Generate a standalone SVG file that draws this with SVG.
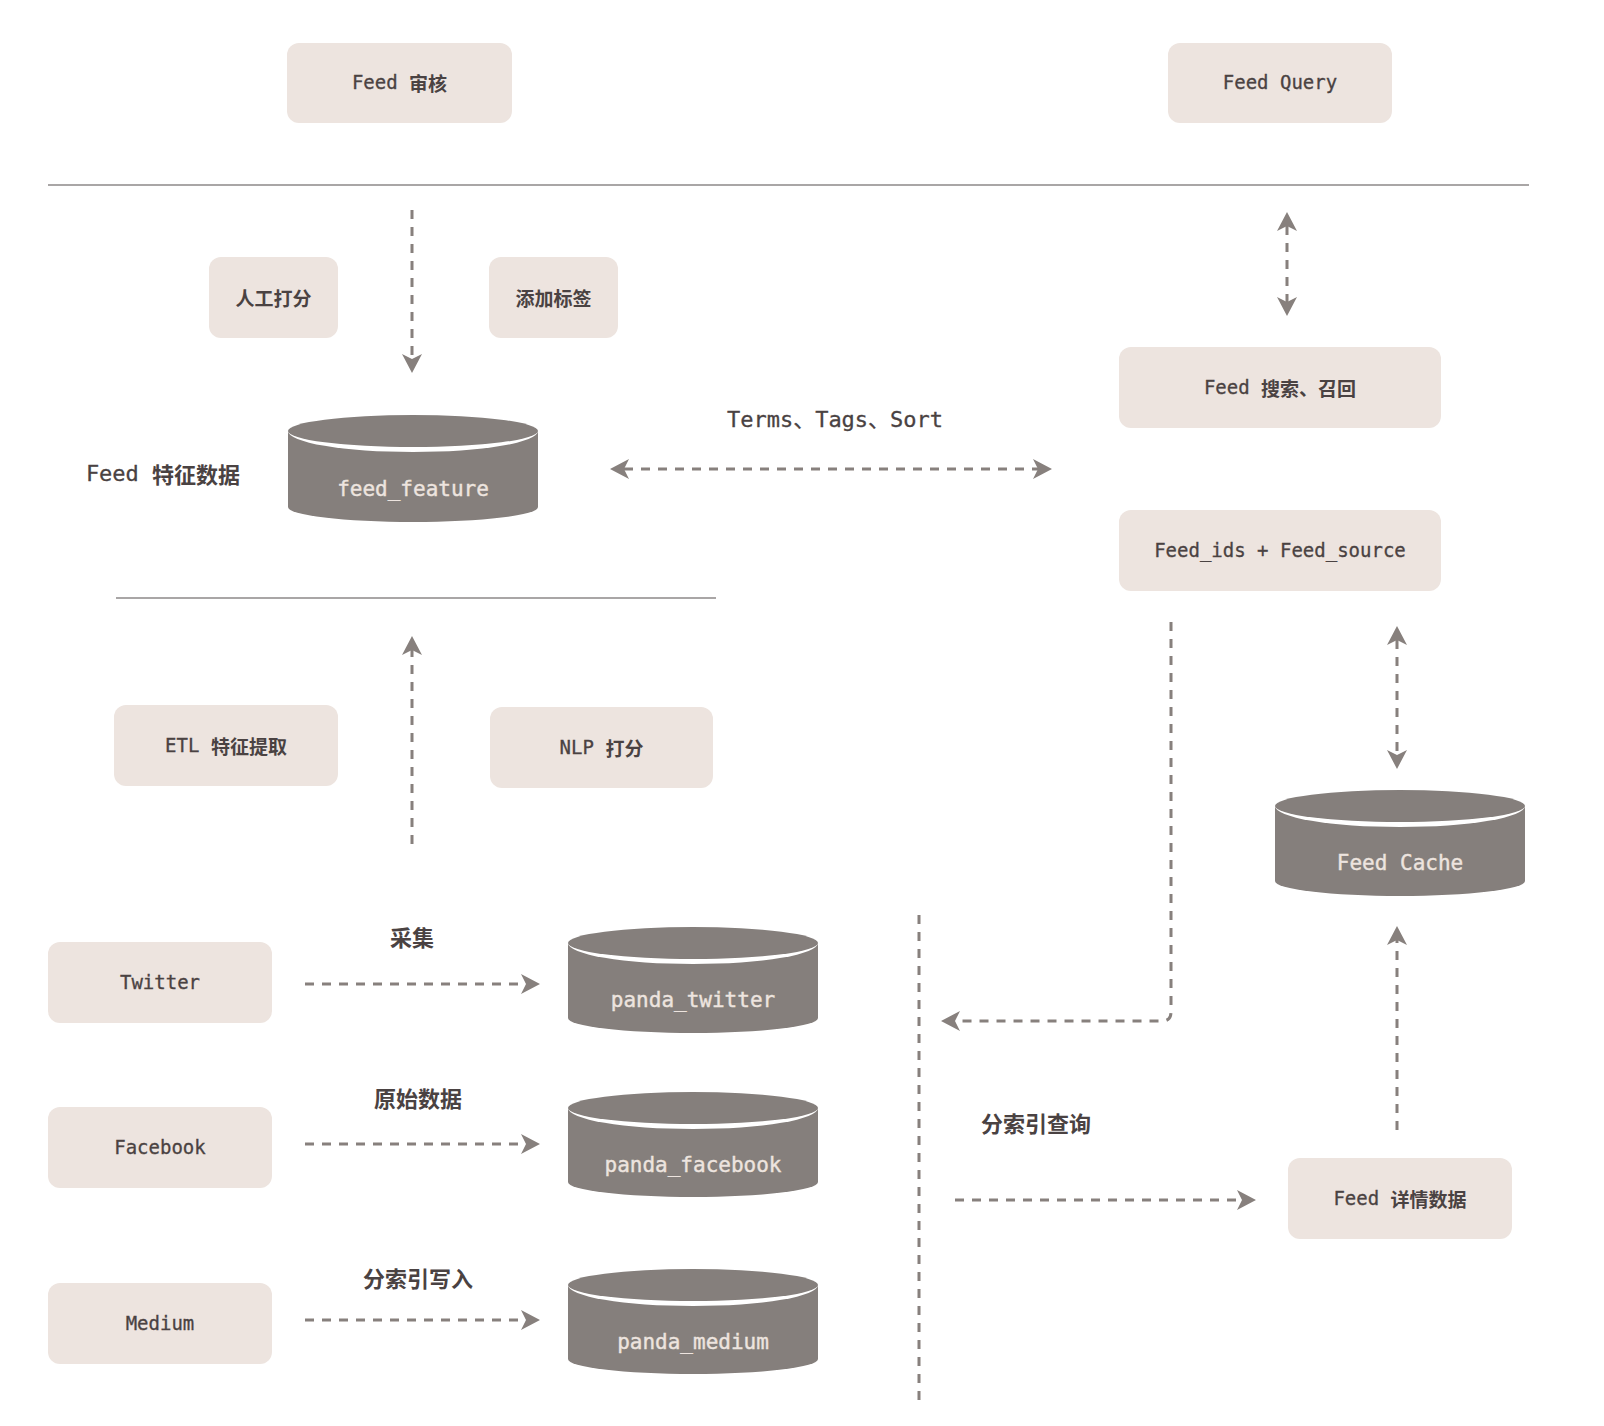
<svg xmlns="http://www.w3.org/2000/svg" width="1604" height="1426" viewBox="0 0 1604 1426">
  <style>
    .box { fill: #ede4df; }
    .lbl { font-family: "DejaVu Sans Mono", "Noto Sans CJK SC", monospace; font-size: 19px; fill: #4a4242; stroke: #4a4242; stroke-width: 0.3; text-anchor: middle; dominant-baseline: central; }
    .big { font-family: "DejaVu Sans Mono", "Noto Sans CJK SC", monospace; font-size: 22px; fill: #4a4242; stroke: #4a4242; stroke-width: 0.3; text-anchor: middle; dominant-baseline: central; }
    .cj { font-family: "Noto Sans CJK SC", sans-serif; font-weight: bold; stroke-width: 0; }
    .cyl { fill: #857f7c; }
    .gap { fill: #ffffff; }
    .cyltxt { font-family: "DejaVu Sans Mono", monospace; font-size: 21px; fill: #ede4df; stroke: #ede4df; stroke-width: 0.4; text-anchor: middle; }
    .rule { stroke: #8c8888; stroke-width: 1.5; fill: none; }
    .flow { stroke: #87807d; stroke-width: 3; stroke-dasharray: 9 8; fill: none; }
  </style>
  <defs>
    <marker id="head" viewBox="0 0 19 20" refX="5" refY="10" markerWidth="19" markerHeight="20" markerUnits="userSpaceOnUse" orient="auto-start-reverse">
      <path d="M0,0 L19,10 L0,20 L5,10 Z" fill="#87807d"/>
    </marker>
  </defs>

  <rect width="1604" height="1426" fill="#ffffff"/>

  <!-- separators -->
  <line class="rule" x1="48" y1="185" x2="1529" y2="185"/>
  <line class="rule" x1="116" y1="598" x2="716" y2="598"/>

  <!-- boxes -->
  <g id="feed-audit"><rect class="box" x="287" y="43" width="225" height="80" rx="12"/><text class="lbl" x="399.5" y="82">Feed <tspan class="cj">审核</tspan></text></g>
  <g id="feed-query"><rect class="box" x="1168" y="43" width="224" height="80" rx="12"/><text class="lbl" x="1280" y="82">Feed Query</text></g>
  <g id="manual-score"><rect class="box" x="209" y="257" width="129" height="81" rx="12"/><text class="lbl" x="273.5" y="296.5"><tspan class="cj">人工打分</tspan></text></g>
  <g id="add-tags"><rect class="box" x="489" y="257" width="129" height="81" rx="12"/><text class="lbl" x="553.5" y="296.5"><tspan class="cj">添加标签</tspan></text></g>
  <g id="feed-search"><rect class="box" x="1119" y="347" width="322" height="81" rx="12"/><text class="lbl" x="1280" y="386.5">Feed <tspan class="cj">搜索、召回</tspan></text></g>
  <g id="feed-ids"><rect class="box" x="1119" y="510" width="322" height="81" rx="12"/><text class="lbl" x="1280" y="549.5">Feed_ids + Feed_source</text></g>
  <g id="etl"><rect class="box" x="114" y="705" width="224" height="81" rx="12"/><text class="lbl" x="226" y="744.5">ETL <tspan class="cj">特征提取</tspan></text></g>
  <g id="nlp"><rect class="box" x="490" y="707" width="223" height="81" rx="12"/><text class="lbl" x="601.5" y="746.5">NLP <tspan class="cj">打分</tspan></text></g>
  <g id="twitter"><rect class="box" x="48" y="942" width="224" height="81" rx="12"/><text class="lbl" x="160" y="981.5">Twitter</text></g>
  <g id="facebook"><rect class="box" x="48" y="1107" width="224" height="81" rx="12"/><text class="lbl" x="160" y="1146.5">Facebook</text></g>
  <g id="medium"><rect class="box" x="48" y="1283" width="224" height="81" rx="12"/><text class="lbl" x="160" y="1322.5">Medium</text></g>
  <g id="feed-detail"><rect class="box" x="1288" y="1158" width="224" height="81" rx="12"/><text class="lbl" x="1400" y="1197.5">Feed <tspan class="cj">详情数据</tspan></text></g>

  <!-- storage cylinders: body, white rim, top face -->
  <g id="feed-feature">
    <path class="cyl" d="M288,431 L288,507 A125,15 0 0 0 538,507 L538,431 Z"/>
    <ellipse class="gap" cx="413" cy="431" rx="125" ry="21"/>
    <ellipse class="cyl" cx="413" cy="431" rx="125" ry="16"/>
    <text class="cyltxt" x="413" y="496">feed_feature</text>
  </g>
  <g id="feed-cache">
    <path class="cyl" d="M1275,806 L1275,881 A125,15 0 0 0 1525,881 L1525,806 Z"/>
    <ellipse class="gap" cx="1400" cy="806" rx="125" ry="21"/>
    <ellipse class="cyl" cx="1400" cy="806" rx="125" ry="16"/>
    <text class="cyltxt" x="1400" y="870">Feed Cache</text>
  </g>
  <g id="panda-twitter">
    <path class="cyl" d="M568,943 L568,1018 A125,15 0 0 0 818,1018 L818,943 Z"/>
    <ellipse class="gap" cx="693" cy="943" rx="125" ry="21"/>
    <ellipse class="cyl" cx="693" cy="943" rx="125" ry="16"/>
    <text class="cyltxt" x="693" y="1007">panda_twitter</text>
  </g>
  <g id="panda-facebook">
    <path class="cyl" d="M568,1108 L568,1182 A125,15 0 0 0 818,1182 L818,1108 Z"/>
    <ellipse class="gap" cx="693" cy="1108" rx="125" ry="21"/>
    <ellipse class="cyl" cx="693" cy="1108" rx="125" ry="16"/>
    <text class="cyltxt" x="693" y="1172">panda_facebook</text>
  </g>
  <g id="panda-medium">
    <path class="cyl" d="M568,1285 L568,1359 A125,15 0 0 0 818,1359 L818,1285 Z"/>
    <ellipse class="gap" cx="693" cy="1285" rx="125" ry="21"/>
    <ellipse class="cyl" cx="693" cy="1285" rx="125" ry="16"/>
    <text class="cyltxt" x="693" y="1349">panda_medium</text>
  </g>

  <!-- free labels -->
  <g id="labels">
    <text class="big" x="163" y="473">Feed <tspan class="cj">特征数据</tspan></text>
    <text class="big" x="835" y="419">Terms、Tags、Sort</text>
    <text class="big" x="412" y="936"><tspan class="cj">采集</tspan></text>
    <text class="big" x="418" y="1097"><tspan class="cj">原始数据</tspan></text>
    <text class="big" x="418" y="1277"><tspan class="cj">分索引写入</tspan></text>
    <text class="big" x="1036" y="1122"><tspan class="cj">分索引查询</tspan></text>
  </g>

  <!-- connectors -->
  <g id="connectors">
    <line class="flow" x1="412" y1="210" x2="412" y2="359" marker-end="url(#head)"/>
    <line class="flow" x1="1287" y1="226" x2="1287" y2="302" marker-start="url(#head)" marker-end="url(#head)"/>
    <line class="flow" x1="624" y1="469" x2="1038" y2="469" marker-start="url(#head)" marker-end="url(#head)"/>
    <line class="flow" x1="412" y1="844" x2="412" y2="650" marker-end="url(#head)"/>
    <line class="flow" x1="1397" y1="640" x2="1397" y2="755" marker-start="url(#head)" marker-end="url(#head)"/>
    <line class="flow" x1="1397" y1="1130" x2="1397" y2="940" marker-end="url(#head)"/>
    <path class="flow" d="M1171,622 L1171,1012 Q1171,1021 1162,1021 L955,1021" marker-end="url(#head)"/>
    <line class="flow" x1="919" y1="915" x2="919" y2="1400"/>
    <line class="flow" x1="955" y1="1200" x2="1242" y2="1200" marker-end="url(#head)"/>
    <line class="flow" x1="305" y1="984" x2="526" y2="984" marker-end="url(#head)"/>
    <line class="flow" x1="305" y1="1144" x2="526" y2="1144" marker-end="url(#head)"/>
    <line class="flow" x1="305" y1="1320" x2="526" y2="1320" marker-end="url(#head)"/>
  </g>
</svg>
